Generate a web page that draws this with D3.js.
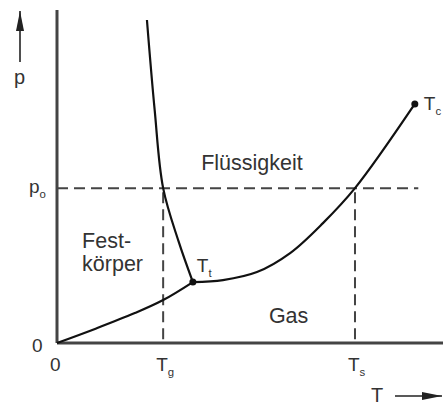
<!DOCTYPE html>
<meta charset="utf-8">
<script src="https://d3js.org/d3.v7.min.js"></script>
<style>
  body { margin: 0; background: #fff; }
  text { font-family: "Liberation Sans", Arial, sans-serif; fill: #333; }
</style>
<div id="chart"></div>
<script>

  // phase boundaries (T, p) in arbitrary units
  var sublimation = [[0, 0], [10, 4.3], [20, 8.9], [27.5, 12.9], [35.2, 18.3]];
  var melting = [[35.2, 18.3], [31.5, 30.5], [27.5, 46.5], [25.3, 70], [23.3, 97]];
  var vaporization = [[35.2, 18.3], [43, 18.9], [51.8, 21.3], [60.4, 27], [68.9, 36], [77.2, 46.5], [92.7, 71.8]];

  // special points
  var triple = {T: 35.2, p: 18.3};
  var critical = {T: 92.7, p: 71.8};
  var p0 = 46.5;
  var Tg = 27.5, Ts = 77.2;

  // tick labels
  var xTicks = [{v: 0, t: "0", sub: ""}, {v: Tg, t: "T", sub: "g"}, {v: Ts, t: "T", sub: "s"}];
  var yTicks = [{v: 0, t: "0", sub: ""}, {v: p0, t: "p", sub: "o"}];

  // region labels
  var regions = [
    {T: 50.5, p: 52, lines: ["Flüssigkeit"], anchor: "middle"},
    {T: 6.5, p: 28.5, lines: ["Fest-", "körper"], anchor: "start"},
    {T: 60, p: 6, lines: ["Gas"], anchor: "middle"}
  ];

  var width = 443, height = 405;

  var svg = d3.select("#chart").append("svg")
    .attr("width", width)
    .attr("height", height);

  var x = d3.scaleLinear().domain([0, 100]).range([57, 443]);
  var y = d3.scaleLinear().domain([0, 100]).range([343, 10]);

  // arrow marker
  svg.append("defs").append("marker")
    .attr("id", "arr")
    .attr("viewBox", "0 0 20 8")
    .attr("refX", 20).attr("refY", 4)
    .attr("markerUnits", "userSpaceOnUse")
    .attr("markerWidth", 20).attr("markerHeight", 8)
    .attr("orient", "auto")
    .append("path")
    .attr("d", "M0,0 L20,4 L0,8 Z")
    .attr("fill", "#222");

  // dashed helper lines
  var dash = svg.append("g")
    .attr("stroke", "#444")
    .attr("stroke-width", 2)
    .attr("stroke-dasharray", "11,6")
    .attr("fill", "none");
  dash.append("line")
    .attr("x1", x(0)).attr("x2", x(93.6))
    .attr("y1", y(p0)).attr("y2", y(p0));
  [Tg, Ts].forEach(function(t) {
    dash.append("line")
      .attr("x1", x(t)).attr("x2", x(t))
      .attr("y1", y(p0) + 4).attr("y2", y(0));
  });

  // axes
  svg.append("line")
    .attr("x1", x(0)).attr("x2", x(0))
    .attr("y1", y(0)).attr("y2", y(100))
    .attr("stroke", "#444").attr("stroke-width", 3);
  svg.append("line")
    .attr("x1", x(0)).attr("x2", x(100))
    .attr("y1", y(0)).attr("y2", y(0))
    .attr("stroke", "#444").attr("stroke-width", 3);

  // curves
  var line = d3.line()
    .x(function(d) { return x(d[0]); })
    .y(function(d) { return y(d[1]); })
    .curve(d3.curveCatmullRom);

  svg.selectAll("path.curve")
    .data([sublimation, melting, vaporization])
    .enter().append("path")
    .attr("class", "curve")
    .attr("d", line)
    .attr("fill", "none")
    .attr("stroke", "#111")
    .attr("stroke-width", 2.2);

  // points
  svg.selectAll("circle")
    .data([triple, critical])
    .enter().append("circle")
    .attr("cx", function(d) { return x(d.T); })
    .attr("cy", function(d) { return y(d.p); })
    .attr("r", 3.5)
    .attr("fill", "#111");

  function label(g, t, sub, size) {
    var txt = g.append("text").style("font-size", size + "px").text(t);
    if (sub) {
      txt.append("tspan")
        .attr("dy", 5)
        .style("font-size", (size * 0.6) + "px")
        .text(sub);
    }
    return txt;
  }

  // x tick labels
  xTicks.forEach(function(d) {
    var g = svg.append("g").attr("transform", "translate(" + (x(d.v) - 7) + ",371)");
    label(g, d.t, d.sub, 19);
  });

  // y tick labels
  yTicks.forEach(function(d) {
    var g = svg.append("g").attr("transform", "translate(" + (d.sub ? 29 : 32) + "," + (y(d.v) + (d.sub ? 5 : 9)) + ")");
    label(g, d.t, d.sub, 19);
  });

  // point labels
  var gt = svg.append("g").attr("transform", "translate(" + (x(triple.T) + 4) + "," + (y(triple.p) - 10) + ")");
  label(gt, "T", "t", 19);
  var gc = svg.append("g").attr("transform", "translate(" + (x(critical.T) + 9) + "," + (y(critical.p) + 6) + ")");
  label(gc, "T", "c", 19);

  // region labels
  regions.forEach(function(r) {
    var t = svg.append("text")
      .attr("x", x(r.T))
      .attr("y", y(r.p))
      .attr("text-anchor", r.anchor)
      .style("font-size", "21.5px");
    r.lines.forEach(function(s, i) {
      t.append("tspan")
        .attr("x", x(r.T))
        .attr("dy", i ? 23 : 0)
        .text(s);
    });
  });

  // axis titles with arrows
  svg.append("text")
    .attr("x", 14).attr("y", 84)
    .style("font-size", "20px")
    .text("p");
  svg.append("line")
    .attr("x1", 20).attr("x2", 20)
    .attr("y1", 62).attr("y2", 11)
    .attr("stroke", "#222").attr("stroke-width", 1.6)
    .attr("marker-end", "url(#arr)");

  svg.append("text")
    .attr("x", 371).attr("y", 402)
    .style("font-size", "20px")
    .text("T");
  svg.append("line")
    .attr("x1", 395).attr("x2", 442)
    .attr("y1", 396).attr("y2", 396)
    .attr("stroke", "#222").attr("stroke-width", 1.6)
    .attr("marker-end", "url(#arr)");

</script>
